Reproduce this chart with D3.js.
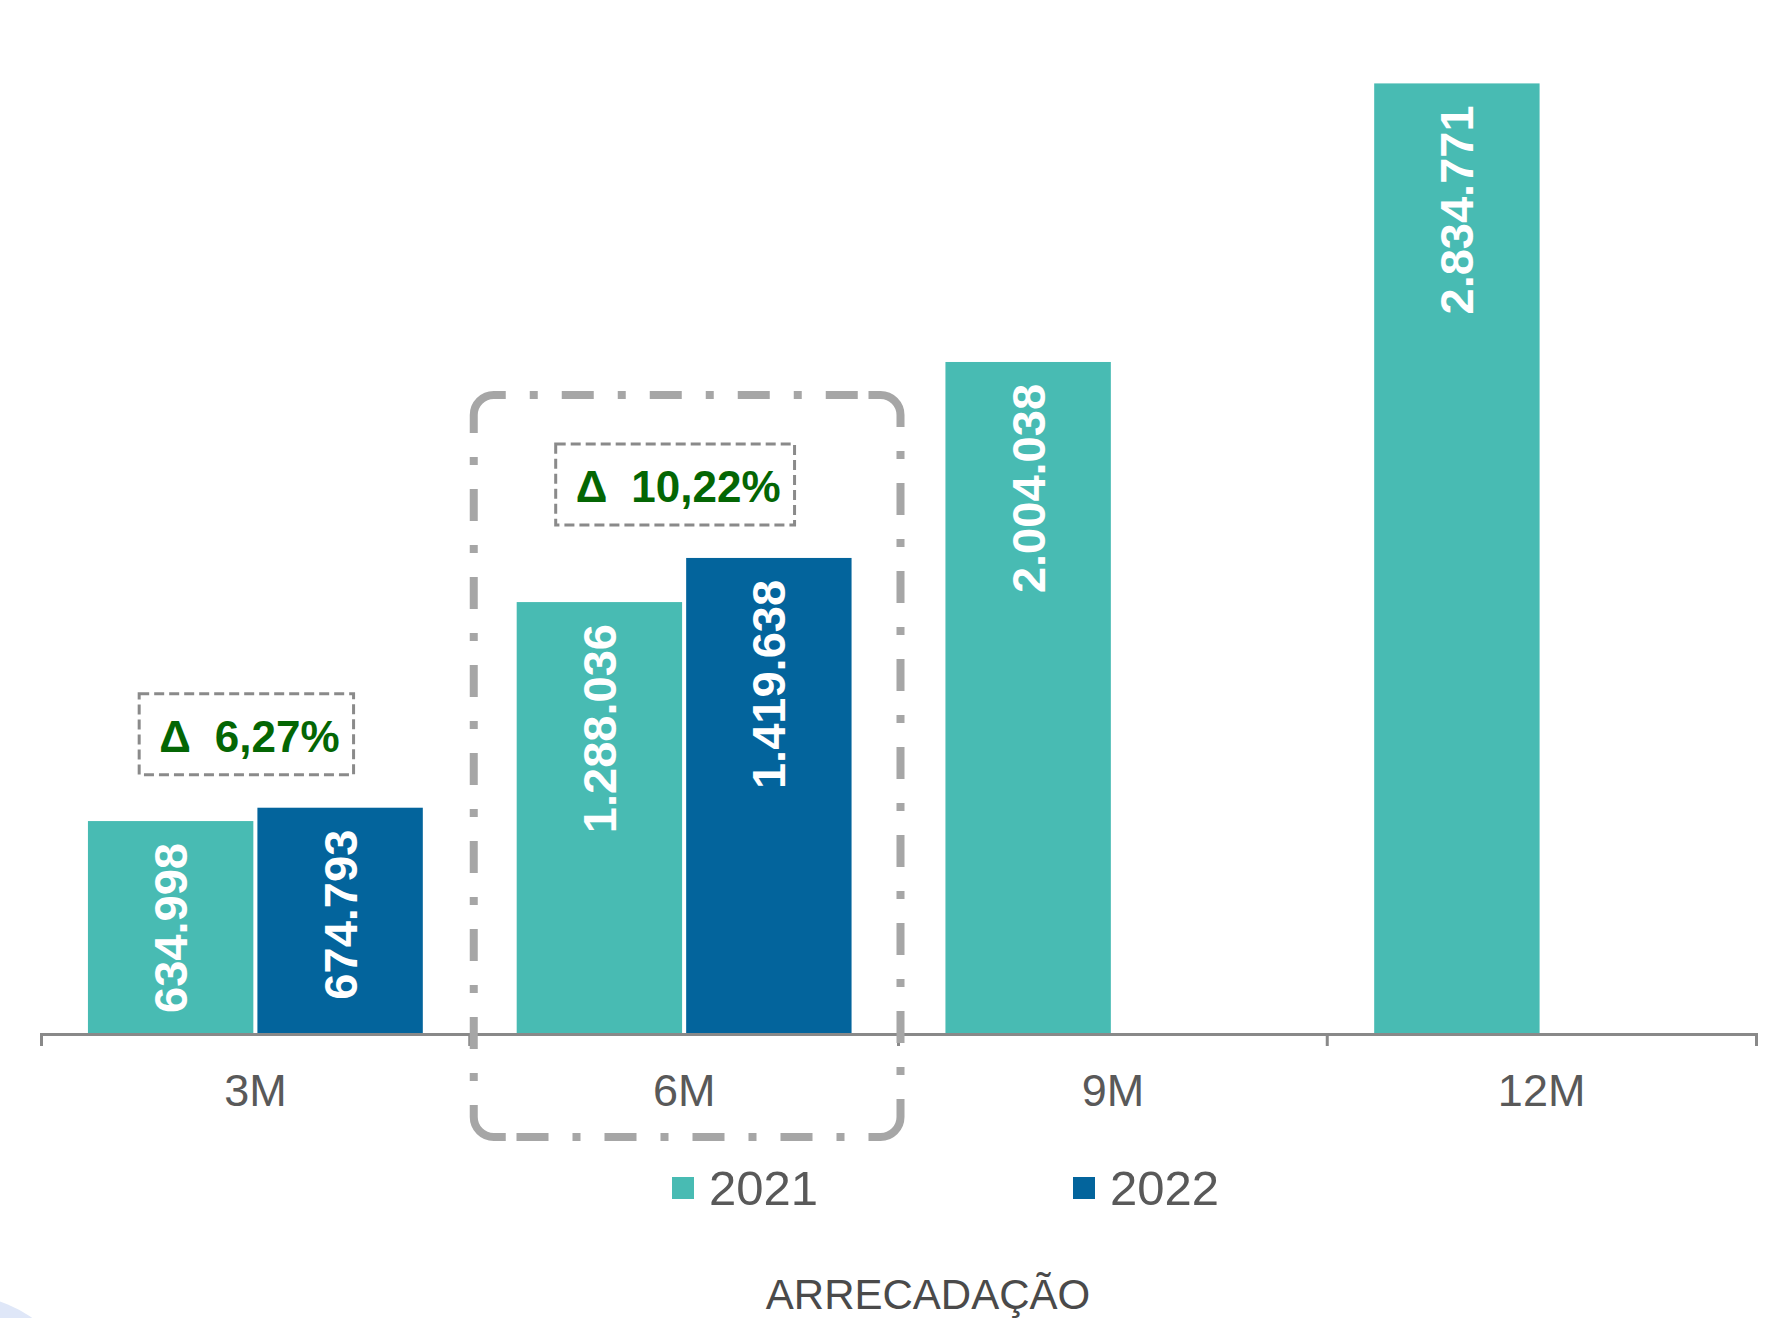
<!DOCTYPE html>
<html>
<head>
<meta charset="utf-8">
<script src="https://cdn.jsdelivr.net/npm/d3@7"></script>
<style>
  body { margin: 0; background: #fff; }
  svg { display: block; font-family: "Liberation Sans", Arial, sans-serif; }
</style>
</head>
<body>
<div id="chart"></div>
<script>
// Daten
const categories = ["3M", "6M", "9M", "12M"];
const series = ["2021", "2022"];
const values2021 = [634998, 1288036, 2004038, 2834771];
const values2022 = [674793, 1419638, null, null];
const seriesColors = ["#48BBB3", "#03649C"];
const highlight = "6M";
const title = "ARRECADAÇÃO";

const width = 1770;
const height = 1318;

// Zahlenformat pt-BR
const br = d3.formatLocale({decimal: ",", thousands: ".", grouping: [3], currency: ["R$ ", ""]});
const fmtInt = br.format(",d");
const fmtPct = br.format(".2f");

const rows = categories.map((c, i) => ({
    cat: c,
    vals: [values2021[i], values2022[i]]
}));

const svg = d3.select("#chart")
    .append("svg")
    .attr("width", width)
    .attr("height", height);

// dekorativer Kreis unten links
svg.append("circle")
    .attr("cx", -40).attr("cy", 1420).attr("r", 125)
    .attr("fill", "#dfe7f8");

// Skalen
const x0 = d3.scaleBand()
    .domain(categories)
    .range([41, 1756]);

const x1 = d3.scaleBand()
    .domain(series)
    .range([0, x0.bandwidth()])
    .paddingInner(0.024)
    .paddingOuter(0.277);

const y = d3.scaleLinear()
    .domain([0, 3000000])
    .range([1034, 28]);

// Balken
const groups = svg.append("g")
    .selectAll("g")
    .data(rows)
    .join("g")
    .attr("transform", d => `translate(${x0(d.cat)},0)`);

const bars = groups.selectAll("g")
    .data(d => d.vals.map((v, i) => ({s: series[i], v: v, i: i})).filter(e => e.v != null))
    .join("g");

bars.append("rect")
    .attr("x", d => x1(d.s))
    .attr("y", d => y(d.v))
    .attr("width", x1.bandwidth())
    .attr("height", d => y(0) - y(d.v))
    .attr("fill", d => seriesColors[d.i]);

bars.append("text")
    .attr("transform", d => `translate(${x1(d.s) + x1.bandwidth() / 2},${y(d.v) + 22}) rotate(-90)`)
    .attr("text-anchor", "end")
    .attr("dominant-baseline", "central")
    .attr("font-size", 47)
    .attr("font-weight", "bold")
    .attr("fill", "#fff")
    .text(d => fmtInt(d.v));

// Achse
const axis = svg.append("g")
    .attr("transform", `translate(0,${y(0)})`)
    .call(d3.axisBottom(x0).tickSize(0).tickSizeOuter(12));

axis.select(".domain").attr("stroke", "#898989").attr("stroke-width", 3);
axis.selectAll(".tick text")
    .attr("y", 72)
    .attr("dy", null)
    .attr("font-size", 45)
    .attr("font-family", "Liberation Sans, Arial, sans-serif")
    .attr("fill", "#595959");

// Trennstriche zwischen Kategorien
axis.selectAll(".sep")
    .data(categories.slice(1))
    .join("line")
    .attr("class", "sep")
    .attr("x1", d => x0(d)).attr("x2", d => x0(d))
    .attr("y1", 0).attr("y2", 12)
    .attr("stroke", "#898989").attr("stroke-width", 3);

// Delta-Boxen
const deltas = rows.filter(r => r.vals[0] != null && r.vals[1] != null);
const boxTops = {};

deltas.forEach(r => {
    const pct = (r.vals[1] / r.vals[0] - 1) * 100;
    const top = y(d3.max(r.vals)) - 33 - 81;
    boxTops[r.cat] = top;
    const cx = x0(r.cat) + x0.bandwidth() / 2 - 6;

    const g = svg.append("g");
    const t = g.append("text")
        .attr("y", top + 58)
        .attr("font-size", 44)
        .attr("font-weight", "bold")
        .attr("fill", "#046604");
    t.append("tspan").text("Δ");
    t.append("tspan").attr("dx", 24).text(fmtPct(pct) + "%");

    const w = t.node().getComputedTextLength() + 24;
    t.attr("x", cx - w / 2);

    g.insert("rect", "text")
        .attr("x", cx - w / 2 - 20)
        .attr("y", top)
        .attr("width", w + 34)
        .attr("height", 81)
        .attr("fill", "none")
        .attr("stroke", "#8a8a8a")
        .attr("stroke-width", 3)
        .attr("stroke-dasharray", "10 5");
});

// Hervorhebung 6M: Ecken durchgezogen, Seiten strich-punktiert
const L = x0(highlight) + 4;
const R = x0(highlight) + x0.bandwidth() + 2;
const T = boxTops[highlight] - 49;
const B = y(0) + 103;
const rr = 20, ext = 12;

const frame = svg.append("g")
    .attr("fill", "none")
    .attr("stroke", "#a6a6a6")
    .attr("stroke-width", 8);

const corners = [
    `M${L},${T + rr + ext}V${T + rr}A${rr},${rr} 0 0 1 ${L + rr},${T}H${L + rr + ext}`,
    `M${R - rr - ext},${T}H${R - rr}A${rr},${rr} 0 0 1 ${R},${T + rr}V${T + rr + ext}`,
    `M${R},${B - rr - ext}V${B - rr}A${rr},${rr} 0 0 1 ${R - rr},${B}H${R - rr - ext}`,
    `M${L + rr + ext},${B}H${L + rr}A${rr},${rr} 0 0 1 ${L},${B - rr}V${B - rr - ext}`
];
frame.selectAll("path.corner")
    .data(corners)
    .join("path")
    .attr("class", "corner")
    .attr("d", d => d);

const sides = [
    [L + rr + ext, T, R - rr - ext, T],
    [R, T + rr + ext, R, B - rr - ext],
    [R - rr - ext, B, L + rr + ext, B],
    [L, B - rr - ext, L, T + rr + ext]
];
frame.selectAll("line")
    .data(sides)
    .join("line")
    .attr("x1", d => d[0]).attr("y1", d => d[1])
    .attr("x2", d => d[2]).attr("y2", d => d[3])
    .attr("stroke-dasharray", "32 24 8 24")
    .attr("stroke-dashoffset", 32);

// Legende
const legend = svg.append("g")
    .selectAll("g")
    .data(series)
    .join("g")
    .attr("transform", (d, i) => `translate(${672 + i * 401},1177)`);

legend.append("rect")
    .attr("width", 22).attr("height", 22)
    .attr("fill", (d, i) => seriesColors[i]);

legend.append("text")
    .attr("x", 37).attr("y", 28)
    .attr("font-size", 49)
    .attr("fill", "#595959")
    .text(d => d);

// Titel unten
svg.append("text")
    .attr("x", 928).attr("y", 1309)
    .attr("text-anchor", "middle")
    .attr("font-size", 42)
    .attr("fill", "#4a4a4a")
    .text(title);
</script>
</body>
</html>
